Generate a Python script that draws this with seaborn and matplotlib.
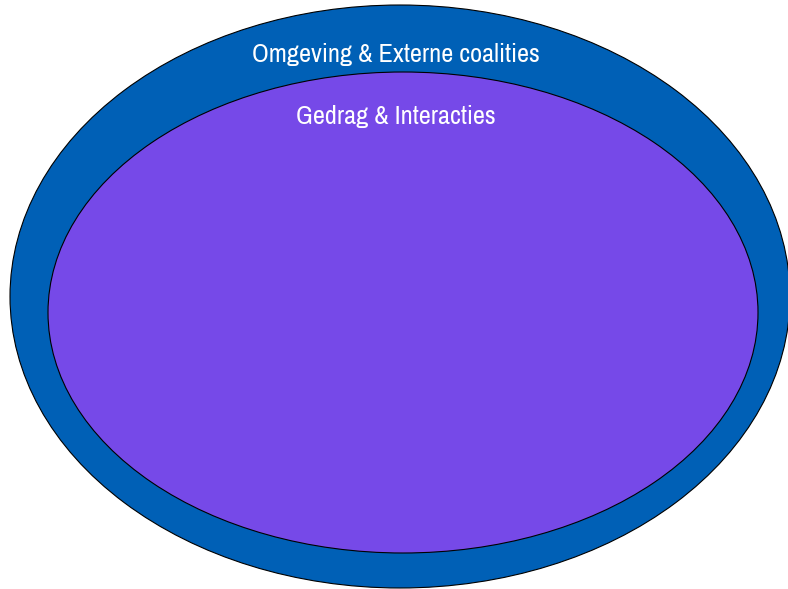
import matplotlib.pyplot as plt
import seaborn as sns
from matplotlib.patches import Ellipse

sns.set_style('white')
plt.rcParams['font.family'] = ['Archivo Narrow', 'DejaVu Sans']

# layers of the model, outer to inner (pixel units)
layer_labels = ['Omgeving & Externe coalities', 'Gedrag & Interacties']
layer_x = [400, 403]
layer_y = [296.5, 312.5]
layer_w = [780, 710]
layer_h = [583, 481]
label_y = [54, 116]
layer_colors = ['#0060B6', '#7649E8']

fig = plt.figure(figsize=(7.88, 5.89), dpi=100)
ax = fig.add_axes([0, 0, 1, 1])
ax.set_xlim(0, 788)
ax.set_ylim(589, 0)
ax.axis('off')

for i in range(len(layer_labels)):
    ax.add_patch(Ellipse((layer_x[i], layer_y[i]), layer_w[i], layer_h[i],
                         facecolor=layer_colors[i], edgecolor='black', lw=0.8))
    ax.text(396, label_y[i], layer_labels[i], color='white', fontsize=19,
            ha='center', va='center')

fig.savefig('out.png', dpi=100)
